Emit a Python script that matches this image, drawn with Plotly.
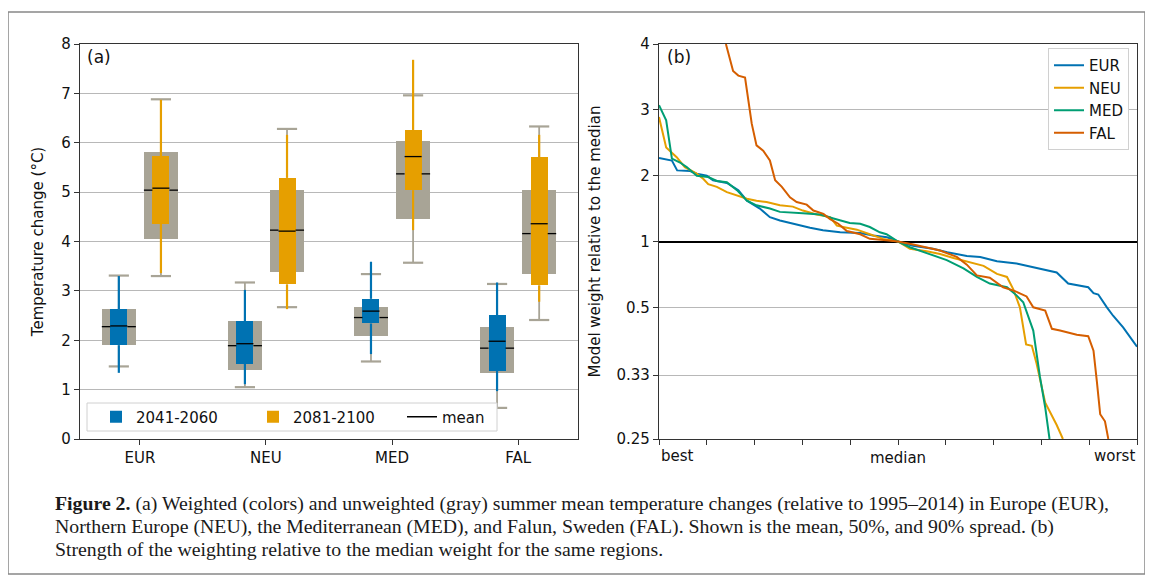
import plotly.graph_objects as go

# ---------------- Panel (a) data ----------------
regions = ["EUR", "NEU", "MED", "FAL"]
periods = ["2041-2060", "2081-2100"]

# weighted 2041-2060
w1_mean = [2.29, 1.93, 2.59, 1.98]
w1_q25 = [1.90, 1.525, 2.34, 1.38]
w1_q75 = [2.63, 2.39, 2.84, 2.51]
w1_p05 = [1.34, 1.11, 1.72, 0.97]
w1_p95 = [3.30, 3.02, 3.59, 3.17]
# unweighted 2041-2060
u1_mean = [2.275, 1.89, 2.46, 1.84]
u1_q25 = [1.90, 1.40, 2.09, 1.34]
u1_q75 = [2.63, 2.39, 2.67, 2.27]
u1_p05 = [1.47, 1.05, 1.57, 0.63]
u1_p95 = [3.31, 3.17, 3.34, 3.14]
# weighted 2081-2100
w2_mean = [5.08, 4.21, 5.72, 4.36]
w2_q25 = [4.36, 3.13, 5.04, 3.11]
w2_q75 = [5.73, 5.29, 6.26, 5.71]
w2_p05 = [3.36, 2.63, 4.23, 2.78]
w2_p95 = [6.87, 6.16, 7.68, 6.16]
# unweighted 2081-2100
u2_mean = [5.04, 4.23, 5.37, 4.16]
u2_q25 = [4.05, 3.39, 4.46, 3.34]
u2_q75 = [5.81, 5.04, 6.04, 5.04]
u2_p05 = [3.30, 2.67, 3.57, 2.41]
u2_p95 = [6.88, 6.28, 6.96, 6.33]

# ---------------- Panel (b) data (rank in % from best to worst, weight / median weight) ----------------
eur_rank = [0, 2.7, 3.8, 6.5, 7.9, 10.0, 11.3, 14.2, 16.6, 18.4, 21.1, 23.2, 25.3, 28.0, 30.1, 31.6, 34.3, 37.9,
            42.1, 44.8, 47.7, 50.0, 53.1, 57.3, 60.3, 64.4, 67.2, 70.7, 74.8, 76.9, 79.7, 83.2, 85.6, 88.1, 89.8,
            90.9, 91.9, 93.7, 95.0, 97.1, 98.5, 100]
eur_w = [2.27, 2.23, 2.08, 2.07, 2.03, 2.00, 1.93, 1.89, 1.78, 1.62, 1.50, 1.37, 1.32, 1.27, 1.24, 1.21, 1.17, 1.14,
         1.13, 1.09, 1.065, 1.00, 0.94, 0.90, 0.86, 0.82, 0.81, 0.77, 0.75, 0.73, 0.706, 0.68, 0.61, 0.60, 0.59,
         0.56, 0.554, 0.50, 0.47, 0.434, 0.41, 0.385]
neu_rank = [0, 1.5, 3.7, 5.4, 7.9, 9.3, 10.3, 12.1, 14.2, 16.3, 18.4, 20.4, 22.5, 25.3, 28.0, 30.1, 33.0, 35.8,
            37.2, 39.3, 41.4, 44.1, 46.9, 50.0, 52.5, 56.0, 58.8, 61.6, 65.1, 67.9, 70.7, 72.8, 74.1, 75.5, 76.8,
            78.0, 79.0, 80.8, 83.2, 84.5]
neu_w = [2.89, 2.43, 2.28, 2.13, 2.03, 1.95, 1.87, 1.83, 1.75, 1.70, 1.65, 1.62, 1.60, 1.55, 1.53, 1.47, 1.41, 1.37,
         1.24, 1.21, 1.18, 1.11, 1.04, 1.00, 0.90, 0.87, 0.84, 0.80, 0.76, 0.73, 0.67, 0.65, 0.58, 0.50, 0.39,
         0.387, 0.35, 0.29, 0.264, 0.25]
med_rank = [0, 1.5, 2.7, 4.4, 5.8, 7.9, 10.3, 12.1, 14.2, 16.3, 18.4, 20.4, 23.2, 25.3, 30.1, 33.7, 36.5, 39.9,
            42.1, 44.1, 46.2, 47.6, 50.0, 52.5, 56.0, 60.2, 63.7, 66.5, 69.2, 71.3, 72.8, 74.8, 76.2, 78.3, 79.7,
            80.8, 81.7]
med_w = [3.07, 2.84, 2.26, 2.20, 2.13, 2.00, 1.98, 1.92, 1.90, 1.78, 1.62, 1.55, 1.50, 1.45, 1.43, 1.41, 1.35, 1.28,
         1.27, 1.22, 1.14, 1.11, 1.00, 0.92, 0.85, 0.78, 0.71, 0.65, 0.61, 0.60, 0.59, 0.55, 0.52, 0.425, 0.327,
         0.284, 0.25]
fal_rank = [14.0, 15.5, 16.6, 18.0, 19.4, 20.4, 21.8, 23.2, 24.3, 25.7, 27.4, 28.8, 30.9, 32.3, 34.4, 35.8, 37.5,
            39.3, 42.1, 44.1, 47.6, 50.0, 53.2, 56.7, 58.8, 62.3, 64.4, 66.5, 69.2, 72.0, 74.5, 76.9, 78.3, 80.8,
            82.2, 83.9, 87.4, 89.8, 90.9, 91.6, 92.3, 93.3, 94.0]
fal_w = [4.0, 3.59, 3.52, 3.49, 2.79, 2.46, 2.38, 2.23, 1.93, 1.83, 1.67, 1.60, 1.56, 1.47, 1.42, 1.34, 1.27, 1.16,
         1.11, 1.04, 1.02, 1.00, 0.955, 0.91, 0.88, 0.81, 0.74, 0.66, 0.645, 0.59, 0.57, 0.545, 0.50, 0.488, 0.43,
         0.425, 0.414, 0.41, 0.376, 0.32, 0.276, 0.268, 0.25]

weight_ticks = [0.25, 0.33, 0.5, 1, 2, 3, 4]
weight_ticktext = ["0.25", "0.33", "0.5", "1", "2", "3", "4"]
rank_ticks = [0, 10, 20, 30, 40, 50, 60, 70, 80, 90, 100]

caption_lines = [
    "<b>Figure 2.</b> (a) Weighted (colors) and unweighted (gray) summer mean temperature changes (relative to 1995–2014) in Europe (EUR),",
    "Northern Europe (NEU), the Mediterranean (MED), and Falun, Sweden (FAL). Shown is the mean, 50%, and 90% spread. (b)",
    "Strength of the weighting relative to the median weight for the same regions.",
]

# ---------------- style ----------------
BLUE = "#0072B2"
ORANGE = "#E69F00"
GREEN = "#009E73"
VERM = "#D55E00"
GRAY = "rgb(168,164,150)"
FONT = "DejaVu Sans"
AX = "#333333"

# page offset of the plot div (browser body margin)
D = 8
W, H = 1153 - D, 576 - D
# plot-area edges in page pixels
PL, PR, PT, PB = 80, 1137, 44, 439
ML, MT = PL - D, PT - D
MR, MB = (W + D) - PR, (H + D) - PB
PW, PH = PR - PL, PB - PT


def px2paper_x(px):
    return (px - PL) / PW


def px2paper_y(py):
    return (PB - py) / PH


def tf(w):
    # symmetric scale: linear in w above 1, linear in 1/w below 1
    return w - 1 if w >= 1 else 1 - 1 / w


fig = go.Figure()

OFF = 0.167
GW, CW, CAPW = 0.27, 0.135, 0.16

sets = [
    (periods[0], BLUE, -OFF, (w1_mean, w1_q25, w1_q75, w1_p05, w1_p95), (u1_mean, u1_q25, u1_q75, u1_p05, u1_p95)),
    (periods[1], ORANGE, OFF, (w2_mean, w2_q25, w2_q75, w2_p05, w2_p95), (u2_mean, u2_q25, u2_q75, u2_p05, u2_p95)),
]

# boxes (bars, drawn in trace order)
for name, col, off, wdat, udat in sets:
    xs = [i + off for i in range(len(regions))]
    um, uq25, uq75, up05, up95 = udat
    wm, wq25, wq75, wp05, wp95 = wdat
    fig.add_trace(go.Bar(x=xs, y=[b - a for a, b in zip(uq25, uq75)], base=uq25, width=GW,
                         marker=dict(color=GRAY, line=dict(width=0)), showlegend=False,
                         hoverinfo="skip", xaxis="x", yaxis="y"))
    fig.add_trace(go.Bar(x=xs, y=[b - a for a, b in zip(wq25, wq75)], base=wq25, width=CW,
                         marker=dict(color=col, line=dict(width=0)), name=name, legend="legend",
                         xaxis="x", yaxis="y"))

# gray whiskers, caps, means
gwx, gwy, gcx, gcy, gmx, gmy = [], [], [], [], [], []
cmx, cmy = [], []
for name, col, off, wdat, udat in sets:
    um, uq25, uq75, up05, up95 = udat
    wm, wq25, wq75, wp05, wp95 = wdat
    for i in range(len(regions)):
        x = i + off
        top = max(uq75[i], wq75[i])
        bot = min(uq25[i], wq25[i])
        if up95[i] > top:
            gwx += [x, x, None]; gwy += [top, up95[i], None]
        if up05[i] < bot:
            gwx += [x, x, None]; gwy += [up05[i], bot, None]
        for v in (up95[i], up05[i]):
            gcx += [x - CAPW / 2, x + CAPW / 2, None]; gcy += [v, v, None]
        if wq25[i] <= um[i] <= wq75[i]:
            gmx += [x - GW / 2, x - CW / 2, None, x + CW / 2, x + GW / 2, None]
            gmy += [um[i], um[i], None, um[i], um[i], None]
        else:
            gmx += [x - GW / 2, x + GW / 2, None]; gmy += [um[i], um[i], None]
        cmx += [x - CW / 2, x + CW / 2, None]; cmy += [wm[i], wm[i], None]

fig.add_trace(go.Scatter(x=gwx, y=gwy, mode="lines", line=dict(color=GRAY, width=1.8),
                         showlegend=False, hoverinfo="skip", xaxis="x", yaxis="y"))
fig.add_trace(go.Scatter(x=gcx, y=gcy, mode="lines", line=dict(color=GRAY, width=2.2),
                         showlegend=False, hoverinfo="skip", xaxis="x", yaxis="y"))
fig.add_trace(go.Scatter(x=gmx, y=gmy, mode="lines", line=dict(color="black", width=1.3),
                         showlegend=False, hoverinfo="skip", xaxis="x", yaxis="y"))

for name, col, off, wdat, udat in sets:
    wm, wq25, wq75, wp05, wp95 = wdat
    xx, yy = [], []
    for i in range(len(regions)):
        x = i + off
        xx += [x, x, None, x, x, None]
        yy += [wq75[i], wp95[i], None, wp05[i], wq25[i], None]
    fig.add_trace(go.Scatter(x=xx, y=yy, mode="lines", line=dict(color=col, width=2.2),
                             showlegend=False, hoverinfo="skip", xaxis="x", yaxis="y"))

fig.add_trace(go.Scatter(x=cmx, y=cmy, mode="lines", line=dict(color="black", width=1.3),
                         name="mean", legend="legend3", xaxis="x", yaxis="y"))

# ---------------- Panel (b) ----------------
for name, col, rk, wv in [("EUR", BLUE, eur_rank, eur_w), ("NEU", ORANGE, neu_rank, neu_w),
                          ("MED", GREEN, med_rank, med_w), ("FAL", VERM, fal_rank, fal_w)]:
    fig.add_trace(go.Scatter(x=rk, y=[tf(v) for v in wv], mode="lines", name=name,
                             line=dict(color=col, width=2), legend="legend2",
                             xaxis="x2", yaxis="y2"))

axis_common = dict(showline=True, mirror=True, linecolor=AX, linewidth=1.3, ticks="outside",
                   ticklen=5, tickcolor=AX, tickwidth=1.2,
                   tickfont=dict(family=FONT, size=15, color="#111"))

fig.update_layout(
    width=W, height=H,
    margin=dict(l=ML, r=MR, t=MT, b=MB, autoexpand=False),
    paper_bgcolor="white", plot_bgcolor="white",
    barmode="overlay", bargap=0,
    font=dict(family=FONT, size=15, color="#111"),
    xaxis=dict(domain=[0, px2paper_x(578)], range=[-0.475, 3.475], tickvals=list(range(len(regions))),
               ticktext=regions, showgrid=False, zeroline=False, **axis_common),
    yaxis=dict(domain=[0, 1], range=[0, 8], dtick=1, showgrid=True, gridcolor="#b8b8b8", gridwidth=1,
               zeroline=False, title=dict(text="Temperature change (°C)", font=dict(family=FONT, size=15),
                                          standoff=14), **axis_common),
    xaxis2=dict(domain=[px2paper_x(659), 1], range=[0, 100], tickvals=rank_ticks,
                ticktext=["", "", "", "", "", "median", "", "", "", "", ""], showgrid=False,
                zeroline=False, anchor="y2", **axis_common),
    yaxis2=dict(domain=[0, 1], range=[tf(0.25), tf(4)], tickvals=[tf(v) for v in weight_ticks],
                ticktext=weight_ticktext, showgrid=True, gridcolor="#b8b8b8", gridwidth=1,
                zeroline=True, zerolinecolor="black", zerolinewidth=2, anchor="x2",
                title=dict(text="Model weight relative to the median", font=dict(family=FONT, size=15),
                           standoff=12), **axis_common),
    legend=dict(orientation="h", x=px2paper_x(96), y=px2paper_y(417), xanchor="left", yanchor="middle",
                bgcolor="rgba(0,0,0,0)", borderwidth=0, entrywidth=112,
                entrywidthmode="pixels", font=dict(family=FONT, size=15)),
    legend3=dict(orientation="h", x=px2paper_x(402), y=px2paper_y(417), xanchor="left", yanchor="middle",
                 bgcolor="rgba(0,0,0,0)", borderwidth=0, font=dict(family=FONT, size=15)),
    legend2=dict(x=px2paper_x(1129), y=px2paper_y(48), xanchor="right", yanchor="top",
                 bgcolor="white", bordercolor="#d0d0d0", borderwidth=1,
                 font=dict(family=FONT, size=15)),
    showlegend=True,
)

annotations = [
    dict(text="(a)", x=px2paper_x(85), y=px2paper_y(57), xref="paper", yref="paper", xanchor="left",
         yanchor="middle", showarrow=False, font=dict(family=FONT, size=17, color="#111")),
    dict(text="(b)", x=px2paper_x(665), y=px2paper_y(57), xref="paper", yref="paper", xanchor="left",
         yanchor="middle", showarrow=False, font=dict(family=FONT, size=17, color="#111")),
    dict(text="best", x=0, xref="x2", y=px2paper_y(456), yref="paper", xanchor="left", yanchor="middle",
         showarrow=False, font=dict(family=FONT, size=15, color="#111")),
    dict(text="worst", x=100, xref="x2", y=px2paper_y(456), yref="paper", xanchor="right", yanchor="middle",
         showarrow=False, font=dict(family=FONT, size=15, color="#111")),
]
for k, line in enumerate(caption_lines):
    annotations.append(dict(text=line, x=px2paper_x(53), y=px2paper_y(503 + 23 * k), xref="paper", yref="paper",
                            xanchor="left", yanchor="middle", showarrow=False, align="left",
                            font=dict(family="Liberation Serif", size=19.8, color="#1a1a1a")))
fig.update_layout(annotations=annotations)

fig.update_layout(shapes=[
    # legend frame of panel (a)
    dict(type="rect", xref="paper", yref="paper", x0=px2paper_x(87), x1=px2paper_x(497),
         y0=px2paper_y(431), y1=px2paper_y(403), line=dict(color="#d0d0d0", width=1),
         fillcolor="white", layer="above"),
    # page frame
    dict(type="rect", xref="paper", yref="paper", x0=px2paper_x(8), x1=px2paper_x(1145),
         y0=px2paper_y(574), y1=px2paper_y(12), line=dict(color="#888888", width=1.5), layer="below"),
])

fig.write_html("out.html")
